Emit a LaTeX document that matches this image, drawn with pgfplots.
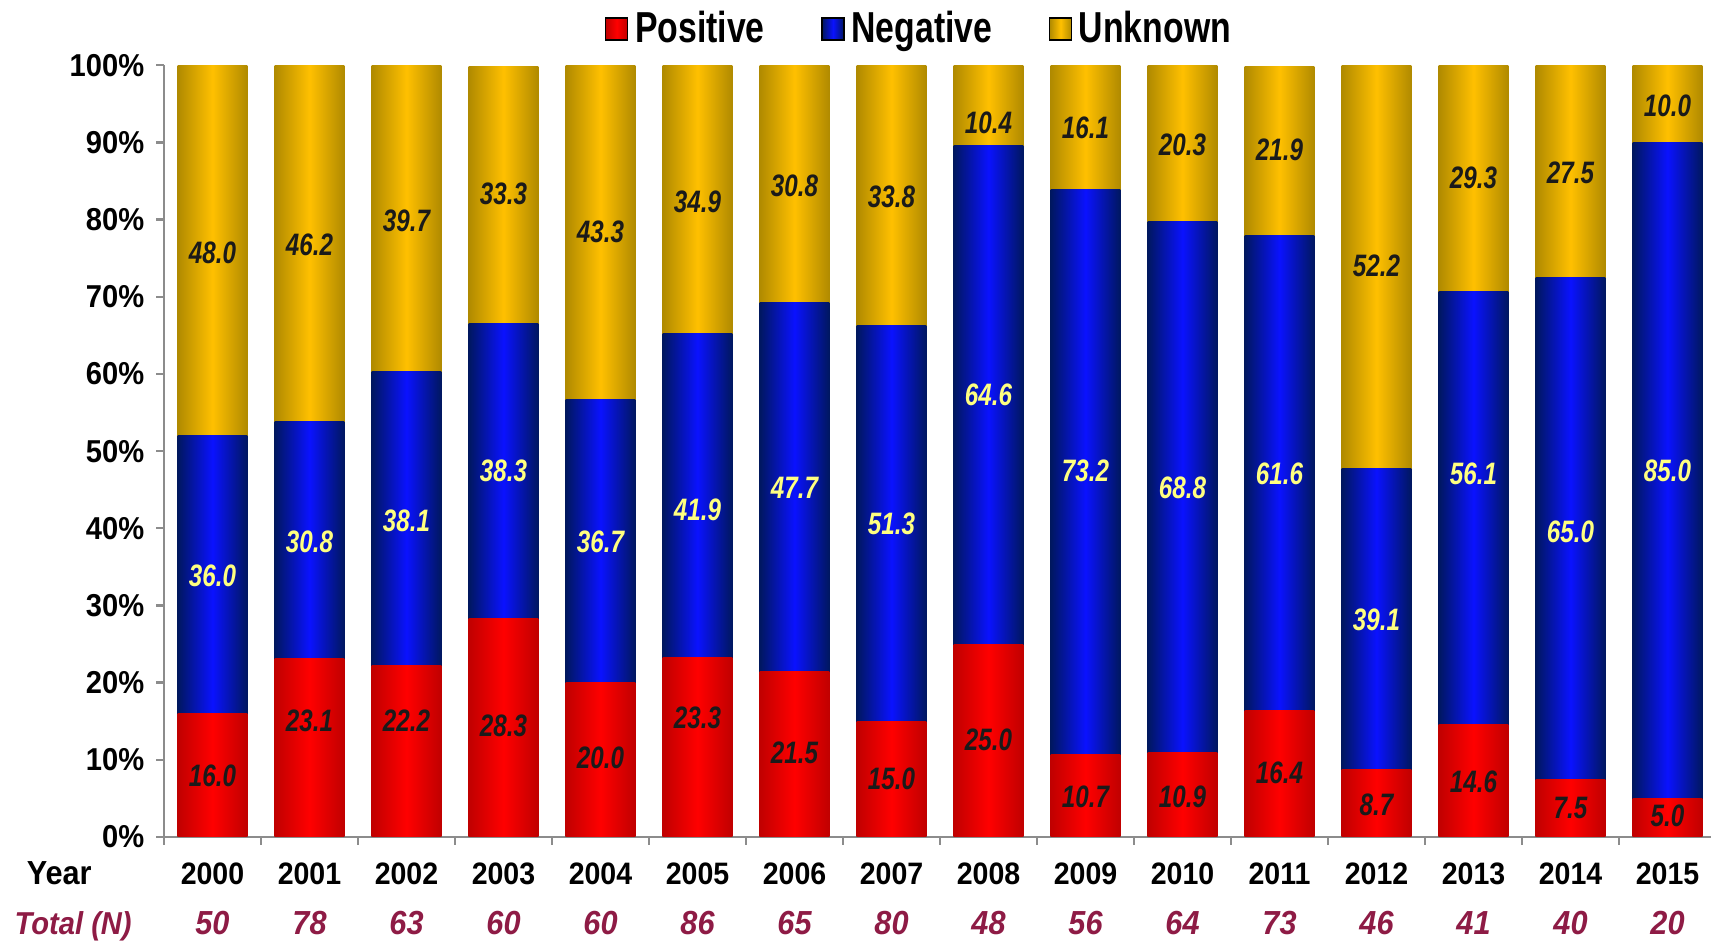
\documentclass[border=0pt]{standalone}
\usepackage{pgfplots}
\pgfplotsset{compat=1.18}
\usepackage{pgfplotstable}
\usepackage{fontspec}
\setmainfont{Liberation Sans}[FakeStretch=0.92]
\newfontfamily\narrowfont{Liberation Sans}[FakeStretch=0.78]

\definecolor{redC}{HTML}{FF0000}
\definecolor{redD}{HTML}{C00000}
\definecolor{bluC}{HTML}{0A12FF}
\definecolor{bluD}{HTML}{00175F}
\definecolor{golC}{HTML}{FFC000}
\definecolor{golD}{HTML}{B08A00}
\definecolor{labYel}{HTML}{FFFF80}
\definecolor{labDark}{HTML}{1A1A1A}
\definecolor{totC}{HTML}{8E1B45}
\definecolor{axC}{HTML}{8C8C8C}

% x = year index, pos/neg/unk = shares (%), lp/ln/lu = label heights
\pgfplotstableread{
x  pos  neg  unk  lp   ln   lu
0  16.0 36.0 48.0 7.9  33.9 75.7
1  23.1 30.8 46.2 15.1 38.2 76.8
2  22.2 38.1 39.7 15.1 41.0 79.9
3  28.3 38.3 33.3 14.4 47.4 83.3
4  20.0 36.7 43.3 10.2 38.2 78.4
5  23.3 41.9 34.9 15.4 42.4 82.3
6  21.5 47.7 30.8 10.9 45.3 84.4
7  15.0 51.3 33.8 7.6  40.6 82.9
8  25.0 64.6 10.4 12.6 57.3 92.6
9  10.7 73.2 16.1 5.2  47.4 91.9
10 10.9 68.8 20.3 5.2  45.3 89.7
11 16.4 61.6 21.9 8.3  47.1 89.0
12 8.7  39.1 52.2 4.2  28.1 74.0
13 14.6 56.1 29.3 7.1  47.1 85.4
14 7.5  65.0 27.5 3.8  39.6 86.1
15 5.0  85.0 10.0 2.7  47.4 94.8
}\data

\newcommand{\valfont}{\narrowfont\bfseries\itshape\fontsize{9.3}{11}\selectfont}
\newcommand{\totfont}{\bfseries\itshape\fontsize{10}{12}\selectfont}

\pgfplotsset{
  shadeR/.style={left color=redD, right color=redD, middle color=redC},
  shadeB/.style={left color=bluD, right color=bluD, middle color=bluC},
  shadeG/.style={left color=golD, right color=golD, middle color=golC},
  onebar/.style={ybar, bar width=0.72, bar shift=0pt, draw=none, forget plot},
}

\begin{document}
\begin{tikzpicture}
\path[use as bounding box] (0,0) rectangle (513.3pt,282.9pt);

\begin{axis}[
    at={(49.2pt,31.8pt)}, anchor=south west,
    scale only axis, width=465.6pt, height=231.5pt,
    xmin=-0.5, xmax=15.5, ymin=0, ymax=100,
    axis lines*=left,
    axis line style={axC, line width=0.7pt},
    tick style={axC, line width=0.7pt},
    tick align=outside, major tick length=2.4pt,
    xtick={-0.5,0.5,...,15.5}, xticklabels={},
    ytick={0,10,...,100},
    yticklabels={0\%,10\%,20\%,30\%,40\%,50\%,60\%,70\%,80\%,90\%,100\%},
    yticklabel style={font=\bfseries\fontsize{9.5}{11}\selectfont, text=black},
    legend style={at={(axis description cs:0.488,1.047)}, anchor=center,
        draw=none, fill=none, font=\narrowfont\bfseries\fontsize{13}{15}\selectfont,
        legend columns=3,
        /tikz/every even column/.append style={column sep=15pt}},
    legend image code/.code={\fill[#1] (0pt,-3.3pt) rectangle (6.6pt,3.3pt);},
]
% one path per bar so that each bar gets its own side-to-side shading;
% segments are painted back to front: whole bar, positive+negative, positive
\pgfplotsinvokeforeach{0,...,15}{
  \addplot[onebar, shadeG, restrict x to domain=#1:#1]
      table[x=x, y expr=\thisrow{pos}+\thisrow{neg}+\thisrow{unk}] \data;
  \addplot[onebar, shadeB, restrict x to domain=#1:#1]
      table[x=x, y expr=\thisrow{pos}+\thisrow{neg}] \data;
  \addplot[onebar, shadeR, restrict x to domain=#1:#1]
      table[x=x, y=pos] \data;
}
\addlegendimage{shadeR}
\addlegendentry{Positive}
\addlegendimage{shadeB}
\addlegendentry{Negative}
\addlegendimage{shadeG}
\addlegendentry{Unknown}
\end{axis}

\begin{axis}[
    at={(49.2pt,31.8pt)}, anchor=south west,
    scale only axis, width=465.6pt, height=231.5pt,
    xmin=-0.5, xmax=15.5, ymin=0, ymax=100,
    clip=false,
    axis line style={draw=none}, tick style={draw=none},
    ytick=\empty,
    xtick={0,...,15},
    xticklabels={2000,2001,2002,2003,2004,2005,2006,2007,2008,2009,2010,2011,2012,2013,2014,2015},
    xticklabel style={anchor=base, yshift=-14.4pt, font=\bfseries\fontsize{9.3}{11}\selectfont, text=black},
    extra x ticks={0,...,15},
    extra x tick labels={50,78,63,60,60,86,65,80,48,56,64,73,46,41,40,20},
    extra x tick style={xticklabel style={yshift=-15pt, text=totC, font=\totfont}},
    point meta=explicit symbolic,
    nodes near coords,
]
\addplot[draw=none, mark=none, every node near coord/.append style={anchor=center, font=\valfont, text=labDark}]
    table[x=x, y=lp, meta=pos] \data;
\addplot[draw=none, mark=none, every node near coord/.append style={anchor=center, font=\valfont, text=labYel}]
    table[x=x, y=ln, meta=neg] \data;
\addplot[draw=none, mark=none, every node near coord/.append style={anchor=center, font=\valfont, text=labDark}]
    table[x=x, y=lu, meta=unk] \data;
\end{axis}

\node[anchor=base west, font=\bfseries\fontsize{10}{12}\selectfont] at (4.5pt,17.4pt) {Year};
\node[anchor=base west, font=\bfseries\itshape\fontsize{9.5}{11}\selectfont, text=totC, inner sep=0pt] at (4.2pt,2.4pt) {Total (N)};
\end{tikzpicture}
\end{document}
